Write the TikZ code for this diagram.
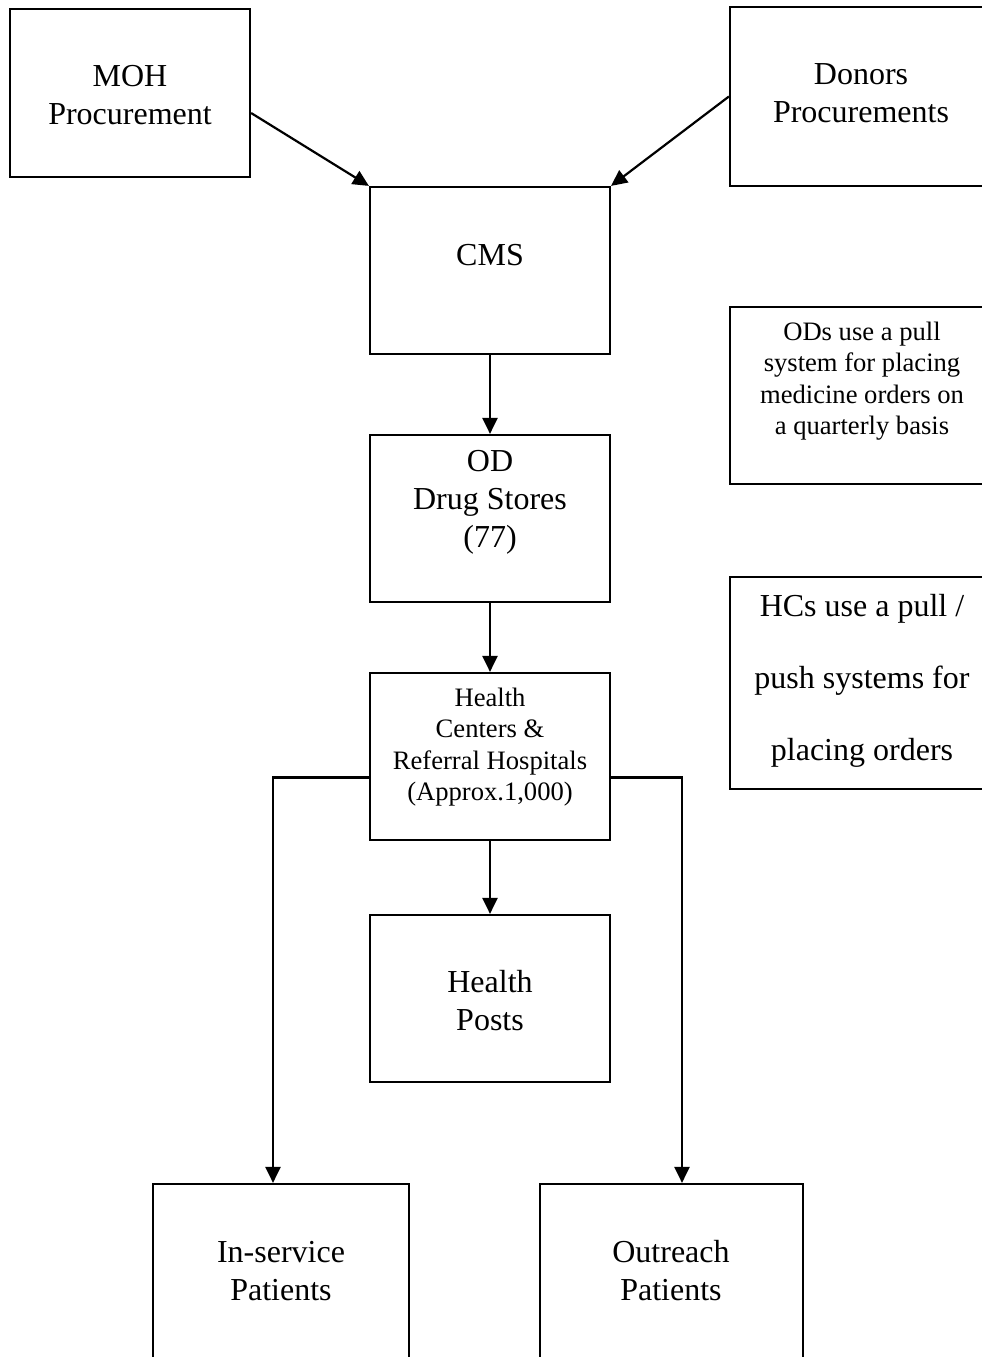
\documentclass[tikz,border=0pt]{standalone}
\usepackage{fontspec}
\setmainfont{Liberation Serif}
\usetikzlibrary{arrows.meta}
\tikzset{
  box/.style={draw=black, line width=2.2pt, minimum width=#1, inner sep=0pt},
  big/.style={inner sep=0pt, align=center, font=\fontsize{32}{38}\selectfont},
  small/.style={inner sep=0pt, align=center, font=\fontsize{26.6}{31.5}\selectfont},
  wide/.style={inner sep=0pt, align=center, font=\fontsize{32}{72}\selectfont},
  conn/.style={line width=2.2pt, -{Triangle[length=16pt,width=15pt]}}
}
\begin{document}
\begin{tikzpicture}[x=1pt,y=-1pt]
\useasboundingbox (0,0) rectangle (982,1357);
\clip (0,0) rectangle (982,1357);
\fill[white] (0,0) rectangle (982,1357);
% boxes
\node[box=240pt, minimum height=168pt] (moh) at (130,93) {};
\node[box=262pt, minimum height=179pt] (don) at (861,96.5) {};
\node[box=240pt, minimum height=167pt] (cms) at (490,270.5) {};
\node[box=264pt, minimum height=177pt] (odn) at (862,395.5) {};
\node[box=240pt, minimum height=167pt] (od) at (490,518.5) {};
\node[box=264pt, minimum height=212pt] (hcn) at (862,683) {};
\node[box=240pt, minimum height=167pt] (hc) at (490,756.5) {};
\node[box=240pt, minimum height=167pt] (hp) at (490,998.5) {};
\node[box=256pt, minimum height=212pt] (ins) at (281,1290) {};
\node[box=263pt, minimum height=212pt] (out) at (671.5,1290) {};
% texts
\node[big] (mohT) at (130,95) {MOH\\Procurement};
\node[big] (donT) at (861,93) {Donors\\Procurements};
\node[big] (cmsT) at (490,255) {CMS};
\node[small] (odnT) at (862,381) {ODs use a pull\\system for placing\\medicine orders on\\a quarterly basis};
\node[big] (odT) at (490,502) {OD\\Drug Stores\\(77)};
\node[wide] (hcnT) at (862,681) {HCs use a pull /\\push systems for\\placing orders};
\node[small] (hcT) at (490,747) {Health\\Centers \&\\Referral Hospitals\\(Approx.1,000)};
\node[big] (hpT) at (490,1001) {Health\\Posts};
\node[big] (insT) at (281,1271) {In-service\\Patients};
\node[big] (outT) at (671,1271) {Outreach\\Patients};
% connectors
\draw[conn] ([yshift=-20pt]moh.east) -- (cms.north west);
\draw[conn] (don.west) -- (cms.north east);
\draw[conn] (cms) -- (od);
\draw[conn] (od) -- (hc);
\draw[conn] (hc) -- (hp);
\draw[conn] ([yshift=-21pt]hc.west) -| ([xshift=-8pt]ins.north);
\draw[conn] ([yshift=-21pt]hc.east) -| ([xshift=10.5pt]out.north);
\end{tikzpicture}
\end{document}
